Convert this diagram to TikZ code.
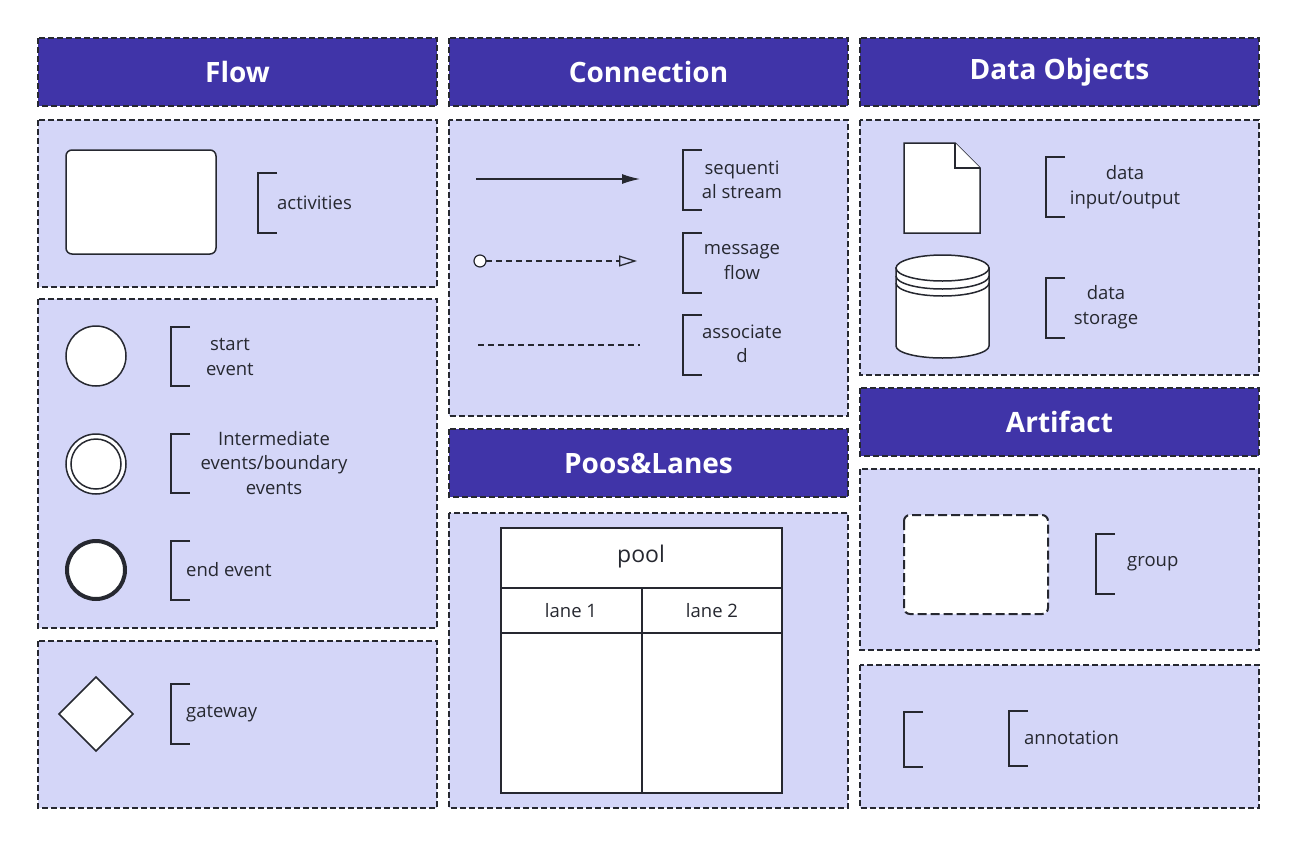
\documentclass[tikz,border=0pt]{standalone}
\usepackage{fontspec}
\setmainfont{Open Sans}
\usetikzlibrary{arrows.meta,shapes.geometric}
\definecolor{hdr}{RGB}{64,52,168}
\definecolor{pnl}{RGB}{212,214,248}
\definecolor{ink}{RGB}{38,40,48}
\begin{document}
\begin{tikzpicture}[x=1pt,y=-1pt,
 hd/.style={fill=hdr,draw=ink,line width=1.2pt,dash pattern=on 6pt off 3pt},
 pn/.style={fill=pnl,draw=ink,line width=1.2pt,dash pattern=on 6pt off 3pt},
 ht/.style={text=white,font=\fontsize{28}{32}\selectfont\bfseries},
 lb/.style={text=ink,font=\fontsize{18.5}{24.5}\selectfont,align=center,inner sep=0},
 sh/.style={draw=ink,line width=1.5pt,fill=white}]
\useasboundingbox (0,0) rectangle (1296,846);
\fill[white] (0,0) rectangle (1296,846);
\newcommand\brk[3]{\draw[ink,line width=1.3pt] (#1+19,#2) -- (#1,#2) -- (#1,#3) -- (#1+19,#3);}
% panels
\foreach \a/\b/\c/\d in {38/120/437/287,38/299/437/628,38/641/437/808,449/120/848/416,449/513/848/808,860/120/1259/375,860/469/1259/650,860/665/1259/808}
  \draw[pn] (\a,\b) rectangle (\c,\d);
\draw[hd] (38,38) rectangle (437,106) node[ht,midway] (h1) {Flow};
\draw[hd] (449,38) rectangle (848,106) node[ht,midway] (h2) {Connection};
\draw[hd] (860,38) rectangle (1259,106) node[ht,midway] (h3) {Data Objects};
\draw[hd] (449,429) rectangle (848,497) node[ht,midway] (h4) {Poos\&Lanes};
\draw[hd] (860,388) rectangle (1259,456) node[ht,midway] (h5) {Artifact};
% Flow
\draw[sh,rounded corners=6pt] (66,150) rectangle (216,254);
\brk{258}{173}{233} \node[lb,anchor=west] (t1) at (277,203) {activities};
\draw[sh] (96,356) circle (30);
\brk{171}{327}{386} \node[lb] (t2) at (230,357) {start\\event};
\draw[sh] (96,464) circle (30); \draw[ink,line width=1.5pt] (96,464) circle (25);
\brk{171}{434}{493} \node[lb] (t3) at (274,463) {Intermediate\\events/boundary\\events};
\draw[sh,line width=4pt] (96,570) circle (29);
\brk{171}{541}{600} \node[lb,anchor=west] (t4) at (186,570) {end event};
\draw[sh] (96,677) -- (133,714) -- (96,751) -- (59,714) -- cycle;
\brk{171}{684}{744} \node[lb,anchor=west] (t5) at (186,714) {gateway};
% Connection
\coordinate (a1) at (476,179); \coordinate (a2) at (640,179);
\draw[ink,line width=1.3pt,-{Latex[length=18pt,width=10pt]}] (a1) -- (a2);
\brk{683}{150}{210} \node[lb] (t6) at (742,180) {sequenti\\al stream};
\coordinate (m1) at (486,261); \coordinate (m2) at (637,261);
\draw[sh,line width=1.2pt] (480,261) circle (6);
\draw[ink,line width=1.3pt,dash pattern=on 6pt off 4pt,-{Triangle[open,length=18pt,width=11pt,line width=1.3pt]}] (m1) -- (m2);
\brk{683}{233}{293} \node[lb] (t7) at (742,262) {message\\flow};
\coordinate (s1) at (478,345); \coordinate (s2) at (640,345);
\draw[ink,line width=1.3pt,dash pattern=on 6pt off 4pt] (s1) -- (s2);
\brk{683}{315}{375} \node[lb] (t8) at (742,344) {associate\\d};
% Pool
\draw[sh,line width=2pt] (501,528) rectangle (782,793);
\draw[ink,line width=2pt] (501,588) -- (782,588) (501,633) -- (782,633) (642,588) -- (642,793);
\node[lb,font=\fontsize{23}{27}\selectfont] (p) at (641,557) {pool};
\node[lb] (l1) at (571,611) {lane 1};
\node[lb] (l2) at (712,611) {lane 2};
% Data objects
\draw[sh] (904,143) -- (955,143) -- (980,168) -- (980,233) -- (904,233) -- cycle;
\draw[ink,line width=1.5pt,fill=white] (955,143) -- (955,168) -- (980,168);
\brk{1046}{157}{217} \node[lb] (t9) at (1125,187) {data\\input/output};
\draw[sh] (896,268) -- (896,346) arc[start angle=180,end angle=0,x radius=46.5,y radius=12] -- (989,268) -- cycle;
\draw[sh] (942.5,268) ellipse (46.5 and 13);
\draw[ink,line width=1.5pt] (896,276) arc[start angle=180,end angle=0,x radius=46.5,y radius=13];
\draw[ink,line width=1.5pt] (896,283) arc[start angle=180,end angle=0,x radius=46.5,y radius=13];
\brk{1046}{278}{338} \node[lb] (t10) at (1106,307) {data\\storage};
% Artifact
\draw[sh,rounded corners=6pt,dash pattern=on 9pt off 4pt,line width=2pt] (904,515) rectangle (1048,614);
\brk{1096}{534}{594} \node[lb,anchor=west] (t11) at (1127,564) {group};
\brk{904}{712}{767}
\brk{1009}{711}{766} \node[lb,anchor=west] (t12) at (1024,738) {annotation};
\end{tikzpicture}
\end{document}
